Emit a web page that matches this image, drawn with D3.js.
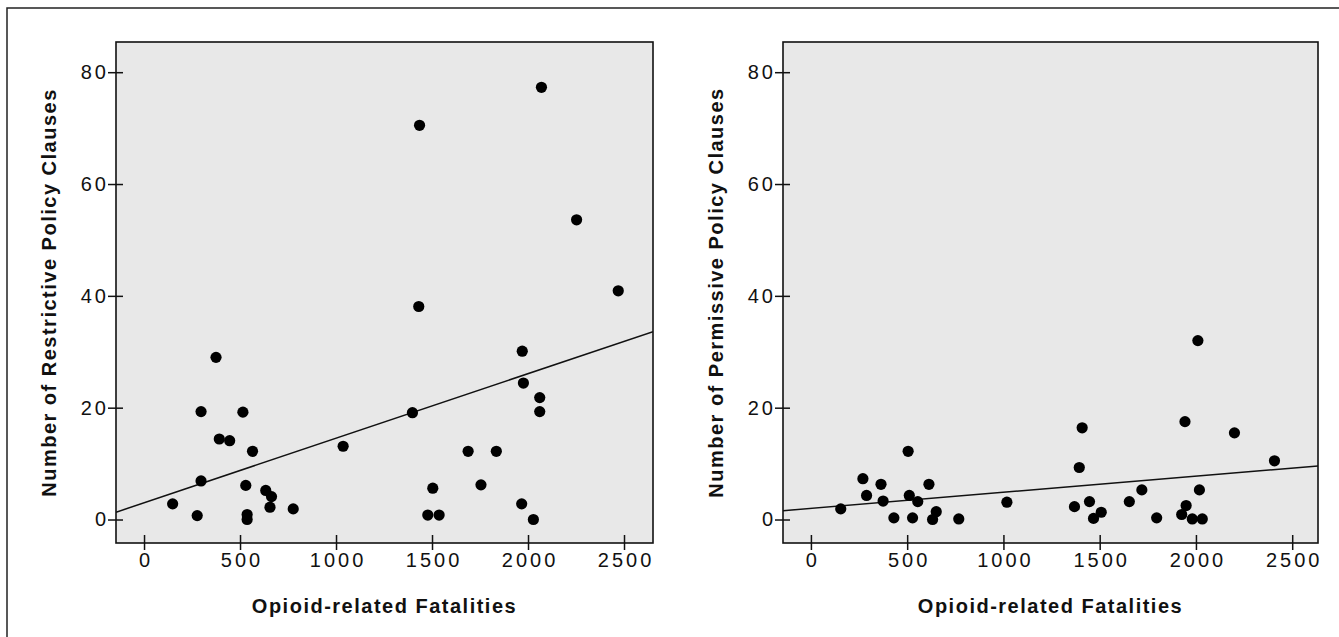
<!DOCTYPE html>
<html>
<head>
<meta charset="utf-8">
<script src="https://cdn.jsdelivr.net/npm/d3@7"></script>
<style>
  body { margin: 0; background: #fff; }
  svg { display: block; }
</style>
</head>
<body>
<script>
// Fatalities (x) and policy clause counts (y)
var restrictiveX = [2070, 1435, 2253, 2470, 1431, 1970, 375, 1976, 2061, 297, 515, 1398, 2061, 392, 446, 565, 1037, 1688, 1835, 297, 530, 634, 664, 1504, 1755, 149, 656, 777, 1967, 277, 537, 537, 1478, 1537, 2028];
var restrictiveY = [77.3, 70.5, 53.6, 40.9, 38.1, 30.1, 29, 24.4, 21.8, 19.3, 19.2, 19.1, 19.3, 14.4, 14.1, 12.2, 13.1, 12.2, 12.2, 6.9, 6.1, 5.2, 4.1, 5.6, 6.2, 2.8, 2.2, 1.9, 2.8, 0.7, 0.9, 0, 0.8, 0.8, 0];

var permissiveX = [2010, 1943, 1409, 2200, 505, 2408, 1394, 270, 364, 613, 289, 511, 375, 555, 1018, 1447, 1654, 1719, 2018, 1369, 1949, 155, 651, 1508, 1926, 431, 528, 632, 768, 1468, 1796, 1981, 2033];
var permissiveY = [32, 17.5, 16.4, 15.5, 12.2, 10.5, 9.3, 7.3, 6.3, 6.3, 4.3, 4.3, 3.3, 3.2, 3.1, 3.2, 3.2, 5.3, 5.3, 2.3, 2.5, 1.9, 1.4, 1.3, 0.9, 0.3, 0.3, 0, 0.1, 0.2, 0.3, 0.1, 0.1];

// fitted lines: [intercept, slope]
var restrictiveFit = [2.99, 0.01155];
var permissiveFit = [2.0, 0.00288];

var xTicks = [0, 500, 1000, 1500, 2000, 2500];
var yTicks = [0, 20, 40, 60, 80];

var xTitle = "Opioid-related Fatalities";
var yTitles = ["Number of Restrictive Policy Clauses", "Number of Permissive Policy Clauses"];

var width = 1339, height = 637;
var plotTop = 42, plotBottom = 543;

var panels = [
  { x: restrictiveX, y: restrictiveY, fit: restrictiveFit, title: yTitles[0], left: 116, right: 653, xDomain: [-146, 2651] },
  { x: permissiveX, y: permissiveY, fit: permissiveFit, title: yTitles[1], left: 783, right: 1318, xDomain: [-145, 2634] }
];

var svg = d3.select("body").append("svg")
  .attr("width", width)
  .attr("height", height);

// outer frame (only top and left edges show)
svg.append("path")
  .attr("d", `M7,${height} V8 H${width}`)
  .attr("fill", "none")
  .attr("stroke", "#222")
  .attr("stroke-width", 1.5);

panels.forEach(function (p, i) {
  var xScale = d3.scaleLinear().domain(p.xDomain).range([p.left, p.right]);
  var yScale = d3.scaleLinear().domain([-4.2, 85.4]).range([plotBottom, plotTop]);

  var g = svg.append("g");

  g.append("clipPath").attr("id", "clip" + i)
    .append("rect")
    .attr("x", p.left).attr("y", plotTop)
    .attr("width", p.right - p.left).attr("height", plotBottom - plotTop);

  g.append("rect")
    .attr("x", p.left).attr("y", plotTop)
    .attr("width", p.right - p.left).attr("height", plotBottom - plotTop)
    .attr("fill", "#e8e8e8");

  // regression line
  var x0 = p.xDomain[0], x1 = p.xDomain[1];
  g.append("line")
    .attr("clip-path", `url(#clip${i})`)
    .attr("x1", xScale(x0)).attr("y1", yScale(p.fit[0] + p.fit[1] * x0))
    .attr("x2", xScale(x1)).attr("y2", yScale(p.fit[0] + p.fit[1] * x1))
    .attr("stroke", "#111")
    .attr("stroke-width", 1.5);

  g.append("g")
    .selectAll("circle")
    .data(d3.range(p.x.length))
    .join("circle")
    .attr("cx", d => xScale(p.x[d]))
    .attr("cy", d => yScale(p.y[d]))
    .attr("r", 5.6)
    .attr("fill", "#000");

  g.append("rect")
    .attr("x", p.left).attr("y", plotTop)
    .attr("width", p.right - p.left).attr("height", plotBottom - plotTop)
    .attr("fill", "none")
    .attr("stroke", "#111")
    .attr("stroke-width", 1.6);

  // axes, ticks cross the box edge
  var gx = g.append("g")
    .attr("transform", `translate(0,${plotBottom})`)
    .call(d3.axisBottom(xScale).tickValues(xTicks).tickSize(7).tickPadding(3).tickFormat(d3.format("d")));
  gx.select(".domain").remove();
  gx.selectAll(".tick line").attr("y1", -8).attr("stroke", "#111").attr("stroke-width", 1.5);

  var gy = g.append("g")
    .attr("transform", `translate(${p.left},0)`)
    .call(d3.axisLeft(yScale).tickValues(yTicks).tickSize(8).tickPadding(2));
  gy.select(".domain").remove();
  gy.selectAll(".tick line").attr("x1", 7).attr("stroke", "#111").attr("stroke-width", 1.5);

  g.selectAll(".tick text")
    .attr("font-family", "'Liberation Sans', Arial, sans-serif")
    .attr("font-size", 20)
    .attr("letter-spacing", "3px")
    .attr("fill", "#111");
  gy.selectAll(".tick text").attr("dx", "3px");
  gx.selectAll(".tick text").attr("dx", "1.5px");

  g.append("text")
    .attr("x", (p.left + p.right) / 2)
    .attr("y", 613)
    .attr("text-anchor", "middle")
    .attr("font-family", "'Liberation Sans', Arial, sans-serif")
    .attr("font-weight", "bold")
    .attr("font-size", 20)
    .attr("letter-spacing", "1.5px")
    .attr("fill", "#111")
    .text(xTitle);

  g.append("text")
    .attr("transform", `translate(${p.left - 60},${(plotTop + plotBottom) / 2}) rotate(-90)`)
    .attr("text-anchor", "middle")
    .attr("font-family", "'Liberation Sans', Arial, sans-serif")
    .attr("font-weight", "bold")
    .attr("font-size", 20)
    .attr("letter-spacing", "1.5px")
    .attr("fill", "#111")
    .text(p.title);
});
</script>
</body>
</html>
